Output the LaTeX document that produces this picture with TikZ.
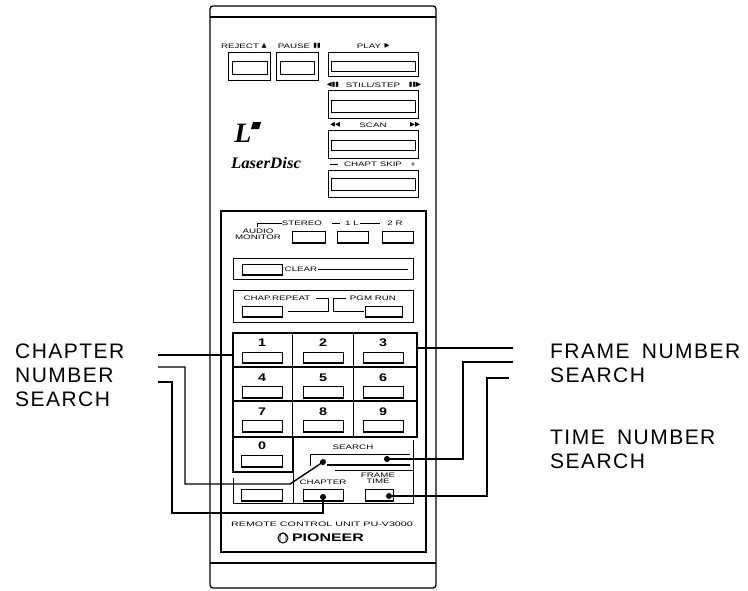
\documentclass[tikz,border=0pt]{standalone}
\usepackage{fontspec}
\setmainfont{Liberation Sans}
\newfontfamily\symf{DejaVu Sans}
\newfontfamily\lblf[LetterSpace=7]{Liberation Sans}
\newfontfamily\serifbi{Liberation Serif}
\newcommand\dblbtn[8]{\draw[keyb] (#1,#2) rectangle (#3,#4);\draw[keyb] (#5,#6) rectangle (#7,#8);}
\newcommand\keybtn[4]{\draw[keyb] (#1,#2) rectangle (#3,#4);\draw[line width=1.8pt] (#1,#4) -- (#3,#4);}
\begin{document}
\begin{tikzpicture}[x=1pt,y=-1pt,
  body/.style={line width=1.3pt},
  thinl/.style={line width=0.8pt},
  keyb/.style={line width=1pt},
  conn/.style={line width=1.4pt},
  tiny/.style={font=\fontsize{6.5}{6.5}\selectfont, inner sep=0pt, xscale=1.5},
  tinysym/.style={font=\symf\fontsize{6.5}{6.5}\selectfont, inner sep=0pt},
  numl/.style={font=\bfseries\fontsize{11}{11}\selectfont, inner sep=0pt, xscale=1.3},
  big/.style={font=\lblf\fontsize{21}{24}\selectfont, align=left, inner sep=0pt, anchor=north west},
  dot/.style={circle, fill=black, inner sep=0pt, minimum size=6pt},
]
\useasboundingbox (0,0) rectangle (748,590);
% body
\draw[body, rounded corners=3pt] (210,6) rectangle (436,588);
\draw[body] (210,17) -- (436,17);
\draw[body] (210,563) -- (436,563);
\draw[body] (221,211) rectangle (426,552);
% top buttons
\dblbtn{228}{52}{270}{80}{232}{61}{267}{74}
\dblbtn{276}{52}{318}{80}{280}{61}{314}{74}
\dblbtn{328}{52}{418}{76}{331}{61}{415}{71}
\dblbtn{328}{90}{418}{118}{331}{100}{415}{112}
\dblbtn{328}{130}{418}{158}{331}{140}{415}{150}
\dblbtn{328}{170}{418}{197}{331}{178}{415}{190}
\node[tiny] (rej) at (240,46) {REJECT};
\node[tinysym] (rejs) at (264,46) {▲};
\node[tiny] (pau) at (294,46) {PAUSE};
\node[tinysym] (paus) at (317,46) {▮▮};
\node[tiny] (pla) at (369,46) {PLAY};
\node[tinysym] (plas) at (387,46) {▶};
\node[tinysym] (stl) at (333,85) {◀▮▮};
\node[tiny] (stt) at (373,85) {STILL/STEP};
\node[tinysym] (str) at (415,85) {▮▮▶};
\node[tinysym] (scl) at (335,125) {◀◀};
\node[tiny] (sct) at (373,125) {SCAN};
\node[tinysym] (scr) at (415,125) {▶▶};
\draw[thinl] (330,164) -- (338,164);
\node[tiny] (cht) at (373,164) {CHAPT SKIP};
\node[tinysym] (chp) at (413,164) {+};
% LaserDisc logo
\node[font=\serifbi\bfseries\itshape\fontsize{28}{28}\selectfont, inner sep=0pt] (ldl) at (243,133) {L};
\fill (253,122) -- (261,122) -- (259,129) -- (251,129) -- cycle;
\node[font=\serifbi\bfseries\itshape\fontsize{16}{16}\selectfont, inner sep=0pt, xscale=1.05] (ldt) at (266,163) {LaserDisc};
% audio monitor row
\node[tiny, align=center] (aud) at (258,234) {AUDIO\\[-0.5pt]MONITOR};
\draw[thinl] (257,227) -- (257,223) -- (282,223);
\node[tiny] (ste) at (302,223) {STEREO};
\draw[thinl] (332,223) -- (340,223);
\node[tiny] (one) at (352,223) {1 L};
\draw[thinl] (360,223) -- (380,223);
\node[tiny] (two) at (395,223) {2 R};
\keybtn{292}{231}{325}{243}
\keybtn{337}{231}{368}{243}
\keybtn{382}{231}{413}{243}
% clear
\draw[thinl] (233,258) rectangle (413,279);
\keybtn{242}{264}{282}{275}
\node[tiny] (clr) at (301,269) {CLEAR};
\draw[thinl] (318,269) -- (408,269);
% chap repeat
\draw[thinl] (233,290) rectangle (413,322);
\node[tiny] (crp) at (277,298) {CHAP.REPEAT};
\node[tiny] (pgm) at (373,298) {PGM RUN};
\draw[thinl] (316,298) -- (328,298) -- (328,311) -- (288,311);
\draw[thinl] (346,298) -- (333,298) -- (333,311) -- (364,311);
\keybtn{242}{306}{282}{317}
\keybtn{365}{306}{402}{317}
% keypad
\node[draw, line width=1.3pt, inner sep=0pt, minimum width=184pt, minimum height=104pt] (keypad) at (325,385) {};
\draw[keyb] (292,333) -- (292,437);
\draw[keyb] (353,333) -- (353,437);
\draw[line width=1.4pt] (233,367) -- (417,367);
\draw[line width=1.4pt] (233,401) -- (417,401);
\node[numl] (k1) at (262,343) {1};
\node[numl] (k2) at (323,343) {2};
\node[numl] (k3) at (383,343) {3};
\node[numl] (k4) at (262,378) {4};
\node[numl] (k5) at (323,378) {5};
\node[numl] (k6) at (383,378) {6};
\node[numl] (k7) at (262,412) {7};
\node[numl] (k8) at (323,412) {8};
\node[numl] (k9) at (383,412) {9};
\node[numl] (k0) at (262,446) {0};
\keybtn{242}{352}{282}{363}
\keybtn{303}{352}{343}{363}
\keybtn{363}{352}{403}{363}
\keybtn{242}{386}{282}{398}
\keybtn{303}{386}{343}{398}
\keybtn{363}{386}{403}{398}
\keybtn{242}{420}{282}{432}
\keybtn{303}{420}{343}{432}
\keybtn{363}{420}{403}{432}
\keybtn{241}{455}{282}{467}
% zero box and lower area
\draw[body] (233,437) -- (233,472) -- (293,472) -- (293,437);
\draw[thinl] (413,440) -- (413,503) -- (233,503) -- (233,478);
\draw[thinl] (293,472) -- (293,503);
\node[tiny] (srch) at (353,447) {SEARCH};
\draw[keyb] (310,466) -- (310,454) -- (410,454);
\draw[line width=1.8pt] (327,465) -- (410,465);
\draw[thinl] (335,470) -- (413,470);
\node[tiny] (chpl) at (323,482) {CHAPTER};
\node[tiny, align=center] (frl) at (378,478) {FRAME\\[-0.5pt]TIME};
\keybtn{241}{489}{282}{501}
\keybtn{303}{489}{343}{501}
\keybtn{365}{489}{393}{501}
% bottom texts
\node[tiny, xscale=1.1] (rcu) at (322,524) {REMOTE CONTROL UNIT PU-V3000};
\draw[line width=1pt] (283,538) circle (5pt);
\draw[line width=0.9pt] (280,541) -- (280,536) arc (180:0:3pt) -- (286,541);
\node[font=\bfseries\fontsize{11}{11}\selectfont, inner sep=0pt, xscale=1.45] (pio) at (328,538) {PIONEER};
% dots
\node[dot] (sdotL) at (323,462) {};
\node[dot] (sdotR) at (387,459) {};
\node[dot] (cdot) at (323,497) {};
\node[dot] (fdot) at (389,496) {};
% labels
\node[big] (chapl) at (15,344) {CHAPTER\\NUMBER\\SEARCH};
\node[big] (framel) at (550,344) {FRAME\hspace{5pt} NUMBER\\SEARCH};
\node[big] (timel) at (550,430) {TIME\hspace{5pt} NUMBER\\SEARCH};
% connectors
\coordinate (L1) at (158,355);
\coordinate (L2) at (158,367);
\coordinate (L3) at (158,382);
\coordinate (R1) at (513,348);
\coordinate (R2) at (513,362);
\coordinate (R3) at (509,378);
\draw[conn] (L1) -- (keypad.west |- L1);
\draw[conn] (L2) -- (185,367) -- (185,484) -- (290,484) -- (sdotL.center);
\draw[conn] (L3) -- (172,382) -- (172,513) -- (323,513) -- (cdot.center);
\draw[conn] (R1) -- (keypad.east |- R1);
\draw[conn] (R2) -- (463,362) -- (463,459) -- (sdotR.center);
\draw[conn] (R3) -- (487,378) -- (487,496) -- (fdot.center);
\end{tikzpicture}
\end{document}
